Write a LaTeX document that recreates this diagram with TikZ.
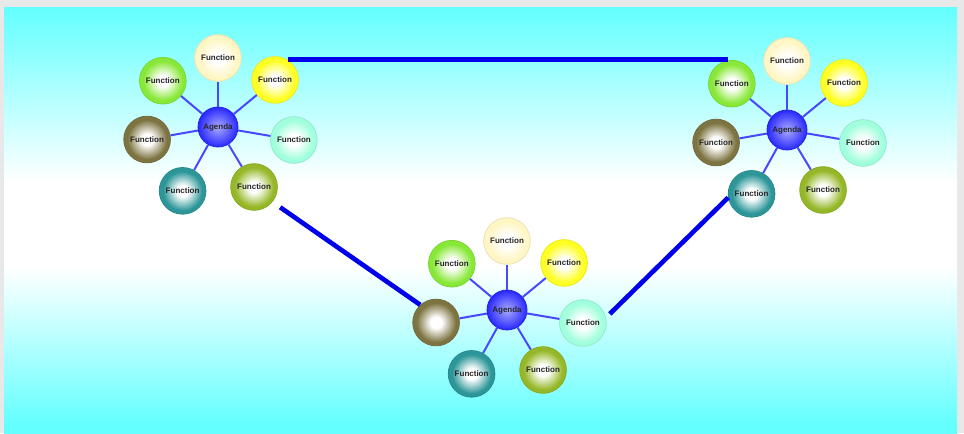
\documentclass[tikz,border=0pt]{standalone}
\usepackage{fontspec}
\setmainfont{Liberation Sans}

\definecolor{Sky}{RGB}{100,255,255}
\definecolor{Cream}{RGB}{255,246,196}
\definecolor{Lemon}{RGB}{255,255,34}
\definecolor{Mint}{RGB}{160,255,220}
\definecolor{Olive}{RGB}{150,184,40}
\definecolor{Teal}{RGB}{44,150,152}
\definecolor{Khaki}{RGB}{126,116,66}
\definecolor{Lime}{RGB}{136,232,56}
\definecolor{Royal}{RGB}{40,40,255}

\colorlet{ballc}{white}
\pgfdeclareradialshading[ballc]{sphere}{\pgfpoint{0bp}{0bp}}{color(0bp)=(white); color(6bp)=(white); color(21bp)=(ballc); color(50bp)=(ballc)}
\pgfdeclareverticalshading{panel}{100bp}{color(0bp)=(Sky); color(26bp)=(Sky); color(44.5bp)=(white); color(54.5bp)=(white); color(75bp)=(Sky); color(100bp)=(Sky)}

\tikzset{
	ball/.style={circle, shade, shading=sphere, /utils/exec={\colorlet{ballc}{#1}}, draw=#1!92!black, line width=0.6pt, minimum size=35pt, inner sep=0pt, text=black!85, font=\fontsize{6}{7}\selectfont\bfseries},
	hub/.style={circle, inner color=Royal!40!white, outer color=Royal, draw=Royal!90!black, line width=0.6pt, minimum size=30pt, inner sep=0pt, text=black!85, font=\fontsize{6}{7}\selectfont\bfseries},
	spoke/.style={draw=Royal!85!white, line width=1.5pt},
	link/.style={draw=blue!92!black, line width=3.5pt}
}

\begin{document}
\begin{tikzpicture}[x=0.75pt, y=0.75pt]

\useasboundingbox (0,0) rectangle (964,433);
\fill[gray!18] (0,0) rectangle (964,433);
\shade[shading=panel] (4,0) rectangle (957,425);

\foreach \n/\x/\y in {1/218/306, 2/507/123, 3/787/303}{
	\node[hub] (a\n) at (\x,\y) {Agenda};
	\foreach \k/\ang/\r/\col in {1/90/69/Cream, 2/39.5/74/Lemon, 3/-9.7/77/Mint, 4/-59/70/Olive, 5/-119/73/Teal, 6/-170/72/Khaki, 7/140/72/Lime}{
		\path (\x,\y) ++(\ang:\r) node[ball=\col] (f\n-\k) {\ifnum\n\k=26 \else Function\fi};
		\draw[spoke] (a\n) -- (f\n-\k);
	}
}

\draw[link] (f1-2.58) -- (f1-2.58 -| f3-7.100);
\draw[link, shorten <=7pt] (f1-4.321) -- (f2-6.132);
\draw[link, shorten <=4pt] (f2-3.13) -- (f3-5.189);

%\draw (a1) -- (a3);

\end{tikzpicture}
\end{document}
